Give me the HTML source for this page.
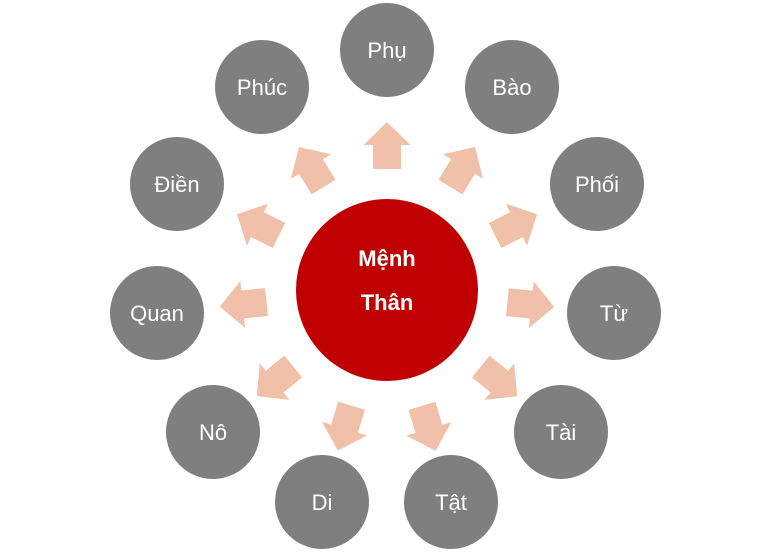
<!DOCTYPE html>
<html><head><meta charset="utf-8"><style>
html,body{margin:0;padding:0;background:#fff;}
svg{display:block;font-family:"Liberation Sans",sans-serif;}
</style></head><body>
<svg id="s" width="774" height="555" viewBox="0 0 774 555">
<circle cx="387" cy="290" r="91" fill="#c00000"/>
<text x="387" y="266" fill="#fff" font-size="22" font-weight="bold" text-anchor="middle">Mệnh</text>
<text x="387" y="310" fill="#fff" font-size="22" font-weight="bold" text-anchor="middle">Thân</text>
<g id="g"></g>
</svg>
<script>
var nodes=[["Phụ",387,50],["Bào",512,87],["Phối",597,184],["Từ",614,313],["Tài",561,432],["Tật",451,502],["Di",322,502],["Nô",213,432],["Quan",157,313],["Điền",177,184],["Phúc",262,87]];
var g=document.getElementById("g"),h="";
var cx=387,cy=290;
nodes.forEach(function(n){
 h+='<circle cx="'+n[1]+'" cy="'+n[2]+'" r="47" fill="#7f7f7f"/>';
 h+='<text x="'+n[1]+'" y="'+(n[2]+8)+'" fill="#fff" font-size="22" text-anchor="middle">'+n[0]+'</text>';
 var a=Math.atan2(n[2]-cy,n[1]-cx)*180/Math.PI;
 var rad=a*Math.PI/180;
 var ax=cx+144*Math.cos(rad), ay=cy+144*Math.sin(rad);
 h+='<polygon transform="translate('+ax.toFixed(1)+','+ay.toFixed(1)+') rotate('+a.toFixed(1)+')" points="-23,-14 1,-14 1,-23.5 24,0 1,23.5 1,14 -23,14" fill="#f0c0a8"/>';
});
g.innerHTML=h;
</script>
</body></html>
